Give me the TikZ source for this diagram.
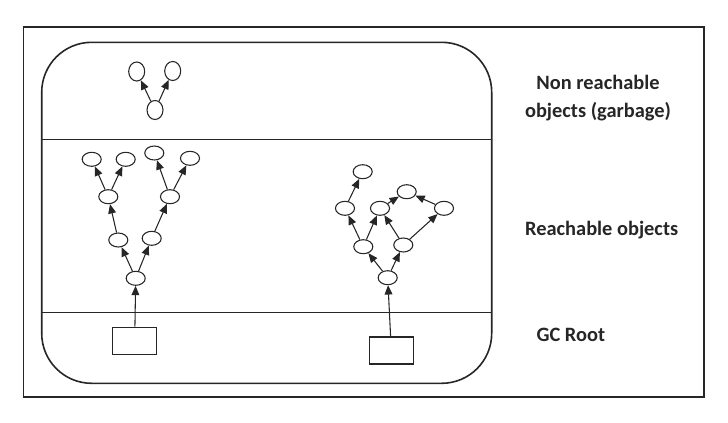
\documentclass[tikz,border=0pt]{standalone}
\usepackage{fontspec}
\setmainfont{Carlito}
\usetikzlibrary{shapes.geometric,arrows.meta}
\tikzset{
	obj/.style={draw, ellipse, inner sep=0pt, minimum width=14.3pt, minimum height=10.5pt, line width=0.8pt},
	garb/.style={draw, ellipse, inner sep=0pt, minimum width=12pt, minimum height=14.3pt, line width=0.8pt},
	rootbox/.style={draw, rectangle, inner sep=0pt, minimum width=33pt, minimum height=20.3pt, line width=1pt},
	ref/.style={-{Triangle[length=7pt,width=5.8pt]}, line width=0.8pt},
	lbl/.style={font=\fontsize{15.3}{20.8}\selectfont\bfseries, align=center, text=black!85}
}

\begin{document}
\begin{tikzpicture}[x=0.75pt, y=-0.75pt, color=black!85]
			%%%%% START %%%%%
			\useasboundingbox (0, 0) rectangle (728, 422);
			
			\draw[line width=1.2pt] (23.3, 26.7) rectangle (704, 396.7);
			\draw[line width=1.2pt, rounded corners=37.5pt] (41.7, 42.3) rectangle (491.7, 383.3);
			
			\draw[line width=1.2pt] (41.7, 139.5) -- (491.7, 139.5);
			\draw[line width=1.2pt] (41.7, 312.3) -- (491.7, 312.3);
			
			% garbage
			\node[garb] (g0) at (155, 110) {};
			\node[garb] (g1) at (136.7, 71.5) {};
			\node[garb] (g2) at (172.7, 71) {};
			\draw[ref] (g0) -- (g1);
			\draw[ref] (g0) -- (g2);
			
			% first root
			\node[rootbox] (r1) at (134.7, 340.8) {};
			\node[obj] (a) at (135.7, 278.3) {};
			\node[obj] (b) at (118.3, 240) {};
			\node[obj] (c) at (151.7, 238.3) {};
			\node[obj] (d) at (108.3, 196.7) {};
			\node[obj] (e) at (170, 196.7) {};
			\node[obj] (d1) at (91.7, 159.3) {};
			\node[obj] (d2) at (125.7, 159.3) {};
			\node[obj] (e1) at (154.3, 153) {};
			\node[obj] (e2) at (190, 158.3) {};
			
			\draw[ref] (r1) -- (a);
			\draw[ref] (a) -- (b);
			\draw[ref] (a) -- (c);
			\draw[ref] (b) -- (d);
			\draw[ref] (c) -- (e);
			\draw[ref] (d) -- (d1);
			\draw[ref] (d) -- (d2);
			\draw[ref] (e) -- (e1);
			\draw[ref] (e) -- (e2);
			
			% second root
			\node[rootbox] (r2) at (391.3, 350.5) {};
			\node[obj] (f) at (387.7, 277.7) {};
			\node[obj] (g) at (363.3, 246.7) {};
			\node[obj] (h) at (403.3, 245) {};
			\node[obj] (p) at (345, 208.3) {};
			\node[obj] (q) at (380, 208.3) {};
			\node[obj] (t) at (362.7, 171.7) {};
			\node[obj] (s) at (444, 208.3) {};
			\node[obj] (u) at (406.7, 191.7) {};
			
			\draw[ref] (r2) -- (f);
			\draw[ref] (f) -- (g);
			\draw[ref] (f) -- (h);
			\draw[ref] (g) -- (p);
			\draw[ref] (g) -- (q);
			\draw[ref] (h) -- (q);
			\draw[ref] (h) -- (s);
			\draw[ref] (p) -- (t);
			\draw[ref] (q) -- (u);
			\draw[ref] (s) -- (u);
			
			% labels
			\node[lbl] (garbage) at (598, 97.8) {Non reachable\\objects (garbage)};
			\node[lbl] (reachable) at (601.7, 230) {Reachable objects};
			\node[lbl] (gcroot) at (570.8, 335) {GC Root};
			
			%%%%% END %%%%%
		\end{tikzpicture}
\end{document}
